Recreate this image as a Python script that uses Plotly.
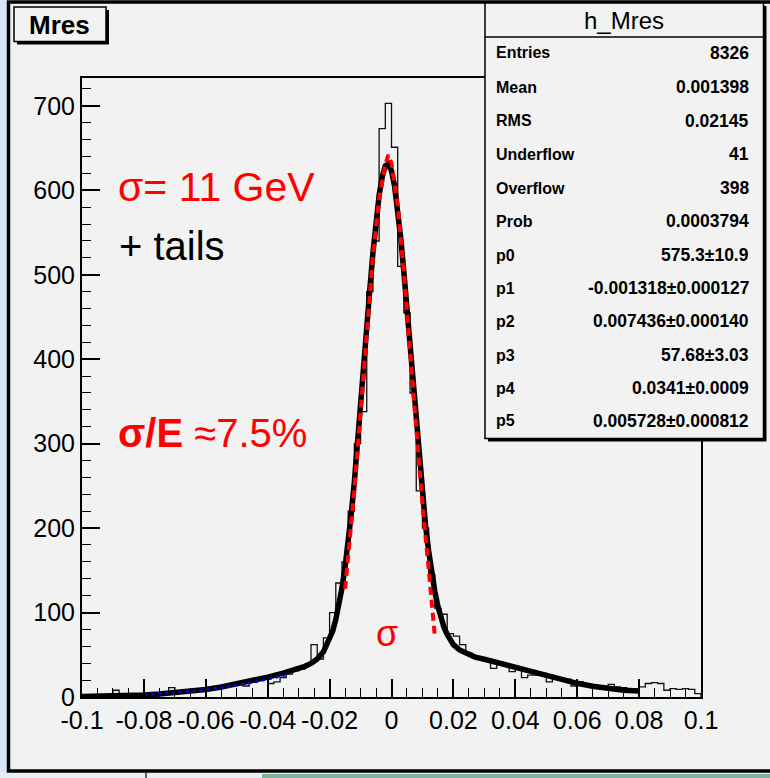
import numpy as np
import plotly.graph_objects as go

# ---------------- data ----------------
x_min, x_max, n_bins = -0.1, 0.1, 100
counts = [2, 1, 2, 1, 2, 8, 2, 4, 1, 3,
          4, 5, 4, 6, 11, 6, 8, 8, 9, 10,
          10, 12, 13, 14, 15, 17, 13, 18, 20, 22,
          16, 18, 23, 27, 31, 33, 38, 62, 45, 70,
          100, 135, 160, 220, 300, 338, 480, 540, 673, 703,
          651, 510, 455, 360, 244, 200, 145, 105, 98, 75,
          72, 62, 52, 49, 45, 43, 34, 41, 38, 30,
          35, 23, 26, 26, 28, 18, 24, 22, 21, 13,
          18, 14, 14, 13, 12, 15, 12, 11, 10, 10,
          12, 16, 17, 16, 8, 10, 9, 10, 9, 4]

fit_x = [-0.1, -0.095, -0.09, -0.085, -0.08, -0.075, -0.07, -0.065, -0.06, -0.055,
         -0.05, -0.045, -0.04, -0.035, -0.03, -0.028, -0.026, -0.024, -0.022,
         -0.02, -0.019, -0.018, -0.017, -0.016, -0.015, -0.014, -0.013, -0.012, -0.011,
         -0.01, -0.009, -0.008, -0.007, -0.006, -0.005, -0.004, -0.003, -0.002, -0.001,
         0.0, 0.001, 0.002, 0.003, 0.004, 0.005, 0.006, 0.007, 0.008, 0.009,
         0.01, 0.011, 0.012, 0.013, 0.014, 0.015, 0.016, 0.017, 0.018, 0.019, 0.02,
         0.022, 0.024, 0.027, 0.03, 0.035, 0.04, 0.045, 0.05, 0.055, 0.06,
         0.065, 0.07, 0.075, 0.08]
fit_y = [0.5, 0.7, 1.1, 1.7, 2.5, 3.5, 4.9, 6.7, 9.0, 11.8,
         15.2, 19.1, 23.5, 28.3, 33.6, 36.3, 39.7, 45.0, 53.5,
         67.9, 78, 91.8, 108, 129, 154, 183, 217, 255, 297,
         343, 390, 437, 483, 526, 564, 594, 616, 629, 631,
         623, 605, 578, 543, 503, 459, 412, 365, 320, 277,
         238, 203, 173, 146, 125, 107, 93.5, 82, 74, 67, 62,
         55.7, 51.7, 47.3, 44.7, 39.9, 34.8, 29.7, 24.8, 20.3, 16.2,
         12.7, 10.0, 8.0, 7.0]

gaus_x = [-0.015, -0.014, -0.012, -0.010, -0.008, -0.006, -0.004, -0.002, -0.001,
          0.0, 0.002, 0.004, 0.006, 0.008, 0.010, 0.012, 0.013, 0.014]
gaus_y = [128, 165, 245, 338, 432, 522, 590, 630, 642,
          632, 582, 503, 410, 315, 228, 152, 108, 72]

blue_x = [-0.080, -0.075, -0.070, -0.065, -0.060, -0.055, -0.050, -0.045, -0.040, -0.034]
blue_y = [3, 4, 5, 7, 9, 11, 14, 17, 21, 26]

x_ticks = [-0.1, -0.08, -0.06, -0.04, -0.02, 0.0, 0.02, 0.04, 0.06, 0.08, 0.1]
x_ticktext = ["-0.1", "-0.08", "-0.06", "-0.04", "-0.02", "0", "0.02", "0.04", "0.06", "0.08", "0.1"]
y_ticks = [0, 100, 200, 300, 400, 500, 600, 700]
y_ticktext = ["0", "100", "200", "300", "400", "500", "600", "700"]

stats_labels = ["Entries", "Mean", "RMS", "Underflow", "Overflow", "Prob",
                "p0", "p1", "p2", "p3", "p4", "p5"]
stats_values = ["8326", "0.001398", "0.02145", "41", "398", "0.0003794",
                "575.3\u00b110.9", "-0.001318\u00b10.000127", "0.007436\u00b10.000140",
                "57.68\u00b13.03", "0.0341\u00b10.0009", "0.005728\u00b10.000812"]

# ---------------- geometry helpers (page pixels -> paper) ----------------
W, H = 770, 778
L, R, T, B = 82, 701, 78, 697
PW, PH = R - L, B - T


def px(xp):
    return (xp - L) / PW


def py(yp):
    return (B - yp) / PH


# ---------------- histogram steps ----------------
edges = np.linspace(x_min, x_max, n_bins + 1)
step_x = [edges[0]] + list(edges) + [edges[-1]]
step_y = [0] + list(counts) + [counts[-1], 0]

BG = "#f2f2f2"
FONT = "Liberation Sans, Arial, Helvetica, sans-serif"

fig = go.Figure()
fig.add_trace(go.Scatter(x=step_x, y=step_y, mode="lines", line_shape="hv",
                         line=dict(color="#111111", width=1.3), hoverinfo="skip"))
fig.add_trace(go.Scatter(x=fit_x, y=fit_y, mode="lines",
                         line=dict(color="black", width=5.5), hoverinfo="skip"))
fig.add_trace(go.Scatter(x=gaus_x, y=gaus_y, mode="lines",
                         line=dict(color="#ff0000", width=4, dash="8px,5px"), hoverinfo="skip"))
fig.add_trace(go.Scatter(x=blue_x, y=blue_y, mode="lines",
                         line=dict(color="#0000ff", width=2.5, dash="3px,4px"), hoverinfo="skip"))

minor_x = [round(v, 4) for v in np.arange(-0.1, 0.1001, 0.005)]
minor_y = list(range(0, 740, 20))

fig.update_xaxes(range=[x_min, x_max], showgrid=False, zeroline=False,
                 showline=True, linecolor="black", linewidth=2, mirror=True,
                 ticks="inside", ticklen=18, tickwidth=1.6, tickcolor="black",
                 tickmode="array", tickvals=x_ticks, ticktext=x_ticktext,
                 tickfont=dict(family=FONT, size=25, color="black"),
                 minor=dict(tickmode="array", tickvals=minor_x, ticks="inside",
                            ticklen=9, tickwidth=1.4, tickcolor="black"))
fig.update_yaxes(range=[0, 733], showgrid=False, zeroline=False,
                 showline=True, linecolor="black", linewidth=2, mirror=True,
                 ticks="inside", ticklen=18, tickwidth=1.6, tickcolor="black",
                 tickmode="array", tickvals=y_ticks, ticktext=y_ticktext,
                 tickfont=dict(family=FONT, size=25, color="black"),
                 minor=dict(tickmode="array", tickvals=minor_y, ticks="inside",
                            ticklen=9, tickwidth=1.4, tickcolor="black"))

shapes = []
# surroundings of the ROOT canvas
shapes.append(dict(type="rect", xref="paper", yref="paper", x0=px(0), x1=px(8), y0=py(0), y1=py(778),
                   fillcolor="#d6e6f4", line=dict(width=0), layer="above"))
shapes.append(dict(type="rect", xref="paper", yref="paper", x0=px(0), x1=px(770), y0=py(772), y1=py(778),
                   fillcolor="#e6eef6", line=dict(width=0), layer="above"))
shapes.append(dict(type="rect", xref="paper", yref="paper", x0=px(262), x1=px(770), y0=py(774), y1=py(778),
                   fillcolor="#7fb29e", line=dict(width=0), layer="above"))
shapes.append(dict(type="line", xref="paper", yref="paper", x0=px(146), x1=px(146), y0=py(773), y1=py(778),
                   line=dict(color="#333333", width=1.5), layer="above"))
# canvas border
shapes.append(dict(type="rect", xref="paper", yref="paper", x0=px(8.5), x1=px(790), y0=py(2), y1=py(771),
                   line=dict(color="black", width=3.5), layer="above"))
# title box with shadow
shapes.append(dict(type="rect", xref="paper", yref="paper", x0=px(17), x1=px(109), y0=py(10), y1=py(44.5),
                   fillcolor="black", line=dict(width=0), layer="above"))
shapes.append(dict(type="rect", xref="paper", yref="paper", x0=px(14), x1=px(106), y0=py(7), y1=py(41.5),
                   fillcolor=BG, line=dict(color="black", width=1.5), layer="above"))
# stats box with shadow
shapes.append(dict(type="rect", xref="paper", yref="paper", x0=px(488), x1=px(766.5), y0=py(6), y1=py(441.5),
                   fillcolor="black", line=dict(width=0), layer="above"))
shapes.append(dict(type="rect", xref="paper", yref="paper", x0=px(485), x1=px(763.5), y0=py(3), y1=py(438.5),
                   fillcolor=BG, line=dict(color="black", width=1.5), layer="above"))
shapes.append(dict(type="line", xref="paper", yref="paper", x0=px(485), x1=px(763.5), y0=py(37), y1=py(37),
                   line=dict(color="black", width=1.5), layer="above"))

annotations = []
annotations.append(dict(text="<b>Mres</b>", xref="paper", yref="paper", x=px(59), y=py(25),
                        xanchor="center", yanchor="middle", showarrow=False,
                        font=dict(family=FONT, size=26, color="black")))
annotations.append(dict(text="h_Mres", xref="paper", yref="paper", x=px(624), y=py(21),
                        xanchor="center", yanchor="middle", showarrow=False,
                        font=dict(family=FONT, size=24, color="black")))
row_y = [53, 87, 121, 154, 188, 221, 255, 288, 321, 355, 388, 421]
for lab, val, yy in zip(stats_labels, stats_values, row_y):
    annotations.append(dict(text="<b>%s</b>" % lab, xref="paper", yref="paper", x=px(494), y=py(yy),
                            xanchor="left", yanchor="middle", showarrow=False,
                            font=dict(family=FONT, size=16, color="black")))
    annotations.append(dict(text="<b>%s</b>" % val, xref="paper", yref="paper", x=px(751), y=py(yy),
                            xanchor="right", yanchor="middle", showarrow=False,
                            font=dict(family=FONT, size=17.5, color="black")))

annotations.append(dict(text="\u03c3= 11 GeV", xref="paper", yref="paper", x=px(116), y=py(187),
                        xanchor="left", yanchor="middle", showarrow=False,
                        font=dict(family=FONT, size=41, color="#ff0000")))
annotations.append(dict(text="+ tails", xref="paper", yref="paper", x=px(117), y=py(246),
                        xanchor="left", yanchor="middle", showarrow=False,
                        font=dict(family=FONT, size=40, color="black")))
annotations.append(dict(text="<b>\u03c3/E</b> \u22487.5%", xref="paper", yref="paper", x=px(116), y=py(433),
                        xanchor="left", yanchor="middle", showarrow=False,
                        font=dict(family=FONT, size=40, color="#ff0000")))
annotations.append(dict(text="\u03c3", xref="paper", yref="paper", x=px(387), y=py(633),
                        xanchor="center", yanchor="middle", showarrow=False,
                        font=dict(family=FONT, size=36, color="#ff0000")))

fig.update_layout(width=W, height=H, margin=dict(l=L, r=W - R, t=T, b=H - B, pad=0),
                  paper_bgcolor=BG, plot_bgcolor=BG, showlegend=False,
                  shapes=shapes, annotations=annotations)

fig.write_html("out.html")
